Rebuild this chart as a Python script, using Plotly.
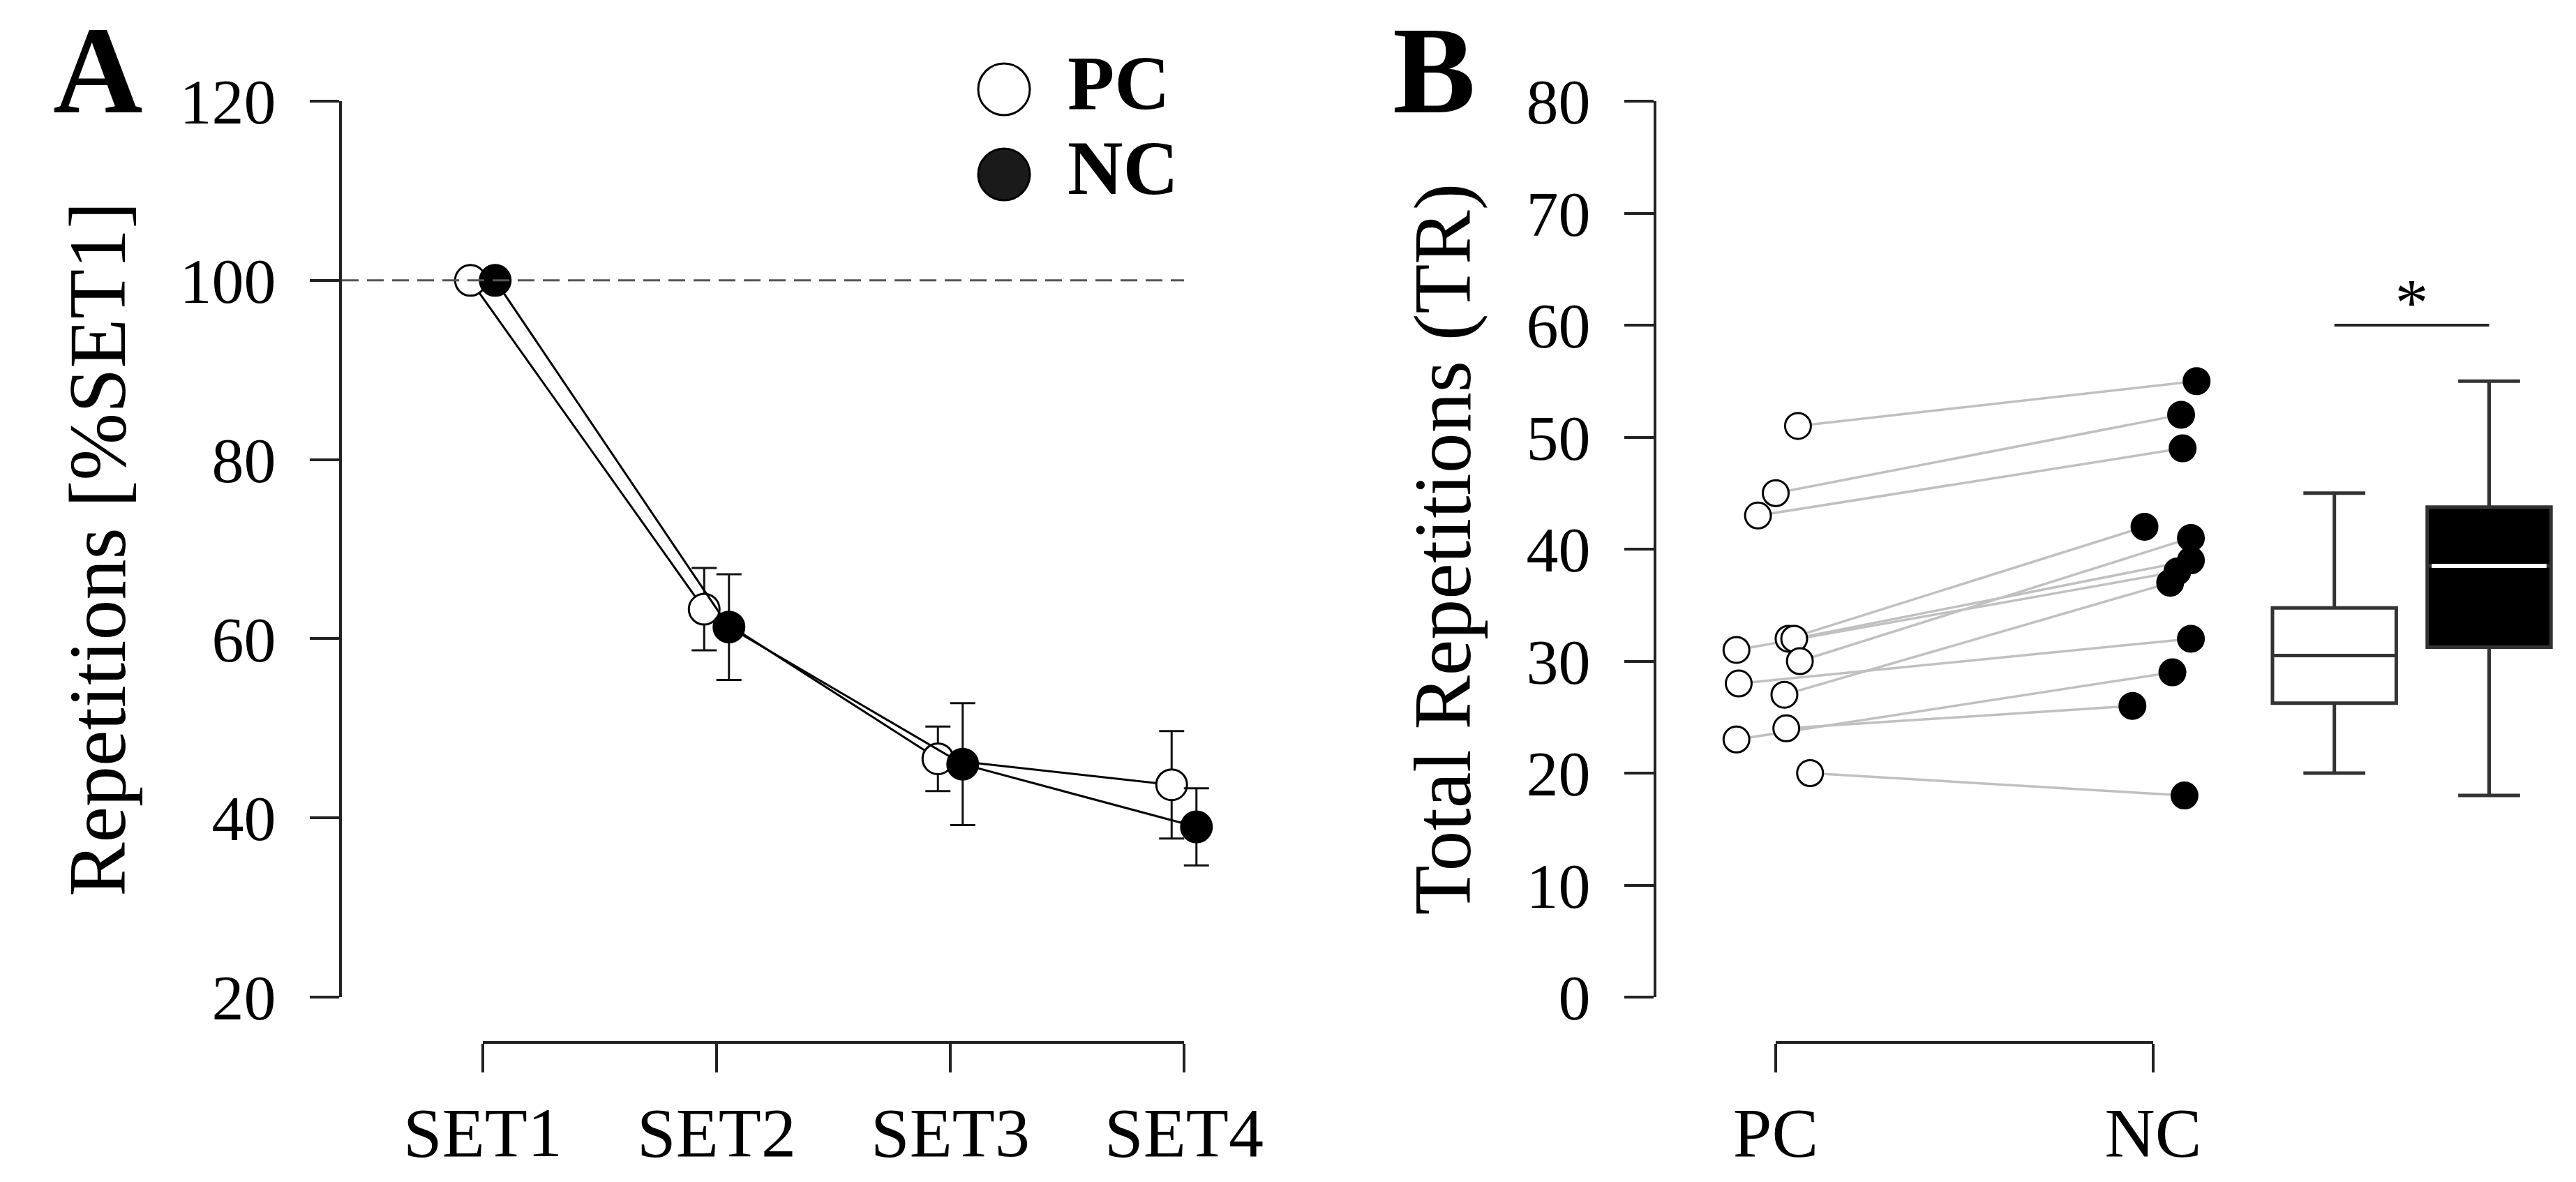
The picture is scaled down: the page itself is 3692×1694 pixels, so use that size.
import numpy as np
import plotly.graph_objects as go

# ---- data (panel A: repetitions as % of SET1, mean +/- SD) ----
sets = ["SET1", "SET2", "SET3", "SET4"]
groups = ["PC", "NC"]
pc_pct = [100, 63.3, 46.6, 43.7]
pc_sd = [0, 4.6, 3.6, 6.0]
nc_pct = [100, 61.3, 46.0, 39.0]
nc_sd = [0, 5.9, 6.8, 4.3]

# ---- data (panel B: total repetitions, paired subjects) ----
pc_tr = [51, 45, 43, 32, 32, 31, 30, 28, 27, 24, 23, 20]
nc_tr = [55, 52, 49, 42, 39, 38, 41, 32, 37, 26, 29, 18]
pc_jitter = [0.059, 0.0, -0.047, 0.034, 0.049, -0.104, 0.064, -0.098, 0.023, 0.028, -0.104, 0.091]
nc_jitter = [0.115, 0.074, 0.078, -0.023, 0.100, 0.064, 0.100, 0.100, 0.045, -0.055, 0.051, 0.083]

# ---- layout helpers (pixel geometry of the reference) ----
W, H = 3692, 1694
FONT = "Liberation Serif, Times New Roman, serif"
AX = "#222222"


def fx(p):
    return p / W


def fy(p):
    return 1 - p / H


def box_stats(vals):
    v = np.sort(np.array(vals, dtype=float))
    q1, med, q3 = np.percentile(v, [25, 50, 75])
    iqr = q3 - q1
    lo = v[v >= q1 - 1.5 * iqr].min()
    hi = v[v <= q3 + 1.5 * iqr].max()
    return q1, med, q3, lo, hi


y_dom = [fy(1429), fy(145)]
bracket_pos = fy(1494)

# panel A x geometry
a_axis, a_first, a_last, a_right = 490, 692, 1697, 1780
a_unit = (a_last - a_first) / 3
a_range = [(a_axis - a_first) / a_unit, (a_right - a_first) / a_unit]
dodge = 0.053

# panel B x geometry
b_axis, b_pc, b_nc, b_right = 2374, 2545, 3086, 3692
b_unit = b_nc - b_pc
b_range = [(b_axis - b_pc) / b_unit, (b_right - b_pc) / b_unit]
box_pos = [1.48, 1.89]
box_w = 0.328

# legend geometry (pixels)
lg_x0, lg_x1, lg_dx = 1380, 1800, 91
lg_cx, lg_top, lg_bot = 1439, 128, 250

fig = go.Figure()

# ---------------- panel A ----------------
xi = np.arange(len(sets))
fig.add_trace(go.Scatter(
    x=xi - dodge, y=pc_pct, mode="lines+markers", name="PC",
    line=dict(color="black", width=3),
    marker=dict(size=44, color="white", line=dict(color="black", width=3)),
    error_y=dict(type="data", array=pc_sd, color="#111", thickness=3, width=18),
    xaxis="x", yaxis="y", showlegend=False))
fig.add_trace(go.Scatter(
    x=xi + dodge, y=nc_pct, mode="lines+markers", name="NC",
    line=dict(color="black", width=3),
    marker=dict(size=44, color="black", line=dict(color="black", width=3)),
    error_y=dict(type="data", array=nc_sd, color="#111", thickness=3, width=18),
    xaxis="x", yaxis="y", showlegend=False))
# carrier for the bracket axis under panel A
fig.add_trace(go.Scatter(x=[0, 3], y=[None, None], xaxis="x2", yaxis="y",
                         showlegend=False, hoverinfo="skip"))

# legend drawn on its own small hidden axes
fig.add_trace(go.Scatter(
    x=[0, 0], y=[1, 0], mode="markers", xaxis="x5", yaxis="y3",
    marker=dict(size=74, color=["white", "#1a1a1a"], line=dict(color="black", width=3)),
    showlegend=False, hoverinfo="skip"))
fig.add_trace(go.Scatter(
    x=[1, 1], y=[1, 0], mode="text", text=["<b>%s</b>" % g for g in groups],
    textposition="middle right",
    textfont=dict(family=FONT, size=110, color="black"),
    xaxis="x5", yaxis="y3", showlegend=False, hoverinfo="skip"))

# ---------------- panel B ----------------
pc_x = np.array(pc_jitter)
nc_x = 1 + np.array(nc_jitter)
lx, ly = [], []
for i in range(len(pc_tr)):
    lx += [pc_x[i], nc_x[i], None]
    ly += [pc_tr[i], nc_tr[i], None]
fig.add_trace(go.Scatter(x=lx, y=ly, mode="lines", line=dict(color="#c0c0c0", width=3.5),
                         xaxis="x3", yaxis="y2", showlegend=False, hoverinfo="skip"))
fig.add_trace(go.Scatter(x=pc_x, y=pc_tr, mode="markers",
                         marker=dict(size=37, color="white", line=dict(color="black", width=3)),
                         xaxis="x3", yaxis="y2", showlegend=False))
fig.add_trace(go.Scatter(x=nc_x, y=nc_tr, mode="markers",
                         marker=dict(size=38, color="black", line=dict(color="black", width=2)),
                         xaxis="x3", yaxis="y2", showlegend=False))

for vals, pos, fill in [(pc_tr, box_pos[0], "white"), (nc_tr, box_pos[1], "black")]:
    q1, med, q3, lo, hi = box_stats(vals)
    fig.add_trace(go.Box(
        x=[pos], q1=[q1], median=[med], q3=[q3], lowerfence=[lo], upperfence=[hi],
        width=box_w, whiskerwidth=0.5, fillcolor=fill,
        line=dict(color="#333333", width=5), boxpoints=False,
        xaxis="x3", yaxis="y2", showlegend=False, hoverinfo="skip"))
# white median line inside the black NC box
nc_med = float(np.median(nc_tr))
fig.add_trace(go.Scatter(x=[box_pos[1] - box_w / 2 + 0.012, box_pos[1] + box_w / 2 - 0.012],
                         y=[nc_med, nc_med], mode="lines", line=dict(color="white", width=6),
                         xaxis="x3", yaxis="y2", showlegend=False, hoverinfo="skip"))
# significance bar
fig.add_trace(go.Scatter(x=box_pos, y=[60, 60], mode="lines", line=dict(color="#222", width=4),
                         xaxis="x3", yaxis="y2", showlegend=False, hoverinfo="skip"))
fig.add_trace(go.Scatter(x=[np.mean(box_pos)], y=[58.5], mode="text", text=["*"],
                         textposition="top center", textfont=dict(family=FONT, size=96, color="black"),
                         xaxis="x3", yaxis="y2", showlegend=False, hoverinfo="skip"))
fig.add_trace(go.Scatter(x=[0, 1], y=[None, None], xaxis="x4", yaxis="y2",
                         showlegend=False, hoverinfo="skip"))

# dashed 100 % reference
fig.add_shape(type="line", xref="x", yref="y", x0=a_range[0], x1=3, y0=100, y1=100,
              line=dict(color="#555555", width=3, dash="24px,12px"))

common_y = dict(showline=True, linewidth=4, linecolor=AX, ticks="outside", ticklen=42,
                tickwidth=4, tickcolor=AX, showgrid=False, zeroline=False, automargin=False,
                tickfont=dict(family=FONT, size=92, color="black"), ticklabelstandoff=30)
bracket = dict(showline=True, linewidth=4, linecolor=AX, ticks="outside", ticklen=41,
               tickwidth=4, tickcolor=AX, showgrid=False, zeroline=False, anchor="free",
               position=bracket_pos, tickfont=dict(family=FONT, size=100, color="black"),
               ticklabelstandoff=0, automargin=False)
hidden = dict(visible=False, showgrid=False, zeroline=False, automargin=False)

fig.update_layout(
    width=W, height=H, margin=dict(l=0, r=0, t=0, b=0, autoexpand=False),
    plot_bgcolor="rgba(0,0,0,0)", paper_bgcolor="white", boxmode="overlay",
    showlegend=False, font=dict(family=FONT, color="black"),
    xaxis=dict(domain=[fx(a_axis), fx(a_right)], range=a_range, **hidden),
    yaxis=dict(domain=y_dom, range=[20, 120], tickvals=list(range(20, 121, 20)), anchor="x",
               title=dict(text="Repetitions [%SET1]", font=dict(family=FONT, size=116), standoff=40),
               **common_y),
    xaxis2=dict(domain=[fx(a_first), fx(a_last)], range=[0, 3], tickvals=list(xi),
                ticktext=sets, **bracket),
    xaxis3=dict(domain=[fx(b_axis), fx(b_right)], range=b_range, **hidden),
    yaxis2=dict(domain=y_dom, range=[0, 80], tickvals=list(range(0, 81, 10)), anchor="x3",
                title=dict(text="Total Repetitions (TR)", font=dict(family=FONT, size=116), standoff=42),
                **common_y),
    xaxis4=dict(domain=[fx(b_pc), fx(b_nc)], range=[0, 1], tickvals=[0, 1],
                ticktext=groups, **bracket),
    xaxis5=dict(domain=[fx(lg_x0), fx(lg_x1)],
                range=[(lg_x0 - lg_cx) / lg_dx, (lg_x1 - lg_cx) / lg_dx], **hidden),
    yaxis3=dict(domain=[fy(320), fy(60)], anchor="x5",
                range=[-(320 - lg_bot) / (lg_bot - lg_top), 1 + (lg_top - 60) / (lg_bot - lg_top)],
                **hidden),
)

fig.add_annotation(text="<b>A</b>", xref="paper", yref="paper", x=fx(140), y=1,
                   xanchor="center", yanchor="top", showarrow=False,
                   font=dict(family=FONT, size=178, color="black"))
fig.add_annotation(text="<b>B</b>", xref="paper", yref="paper", x=fx(2055), y=1,
                   xanchor="center", yanchor="top", showarrow=False,
                   font=dict(family=FONT, size=178, color="black"))

fig.write_html("out.html", config={"displayModeBar": False},
               post_script="document.body.style.margin = '0px';")
